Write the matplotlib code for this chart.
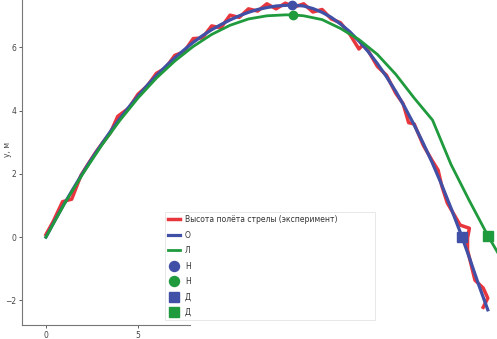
import matplotlib.pyplot as plt
import numpy as np

plt.rcParams['font.family'] = ['DejaVu Sans']

# эксперимент
x_exp = [0.0, 0.4, 0.9, 1.4, 1.9, 2.3, 2.7, 3.1, 3.5, 3.9, 4.5, 5.0, 5.5, 6.0,
         6.5, 7.0, 7.5, 8.0, 8.5, 9.0, 9.5, 10.0, 10.5, 11.0, 11.5, 12.0, 12.5,
         13.0, 13.5, 14.0, 14.5, 15.0, 15.5, 16.0, 16.5, 17.0, 17.25, 17.5,
         18.0, 18.5, 19.0, 19.4, 19.7, 20.0, 20.5, 21.0, 21.3, 21.5, 21.8,
         22.5, 23.0, 22.9, 22.9, 23.3, 23.75, 24.0, 23.75]
y_exp = [0.08, 0.5, 1.12, 1.2, 1.95, 2.32, 2.68, 3.0, 3.3, 3.82, 4.08, 4.52,
         4.78, 5.18, 5.35, 5.75, 5.86, 6.28, 6.3, 6.68, 6.62, 7.02, 6.95, 7.22,
         7.15, 7.38, 7.22, 7.4, 7.28, 7.38, 7.12, 7.2, 6.9, 6.78, 6.42, 5.95,
         6.1, 5.9, 5.4, 5.12, 4.55, 4.22, 3.62, 3.58, 2.9, 2.4, 2.12, 1.62, 1.08,
         0.38, 0.28, -0.03, -0.41, -1.36, -1.61, -1.93, -2.22]

# модель с сопротивлением
x_fit = [0, 0.5, 1, 1.5, 2, 2.5, 3, 3.5, 4, 4.5, 5, 5.5, 6, 6.5, 7, 7.5, 8,
         8.5, 9, 9.5, 10, 10.5, 11, 11.5, 12, 12.5, 13, 13.37, 14, 14.5, 15,
         15.5, 16, 16.5, 17, 17.5, 18, 18.5, 19, 19.5, 20, 20.5, 21, 21.5, 22,
         22.5, 23, 23.5, 24.0]
y_fit = [0, 0.54, 1.06, 1.55, 2.03, 2.49, 2.92, 3.34, 3.74, 4.11, 4.46, 4.8,
         5.11, 5.4, 5.67, 5.92, 6.16, 6.37, 6.56, 6.72, 6.87, 7.0, 7.11, 7.2,
         7.26, 7.31, 7.33, 7.34, 7.31, 7.23, 7.11, 6.95, 6.74, 6.5, 6.2, 5.87,
         5.49, 5.07, 4.61, 4.1, 3.55, 2.96, 2.33, 1.65, 0.92, 0.16, -0.65,
         -1.5, -2.3]

# линейная модель
x_lin = [0, 1, 2, 3, 4, 5, 6, 7, 8, 9, 10, 11, 12, 13, 13.4, 14, 15, 16, 17,
         18, 19, 20, 21, 22, 23, 24, 24.6]
y_lin = [0, 1.05, 2.0, 2.88, 3.68, 4.4, 5.03, 5.57, 6.03, 6.41, 6.7, 6.9, 7.0,
         7.03, 7.03, 7.0, 6.88, 6.6, 6.25, 5.78, 5.15, 4.4, 3.7, 2.3, 1.15,
         0.05, -0.55]

top_fit = (13.37, 7.34)
top_lin = (13.42, 7.03)
land_fit = (22.6, 0.0)
land_lin = (24.0, 0.05)

labels = ['Высота полёта стрелы (эксперимент)', 'О', 'Л', 'Н', 'Н', 'Д', 'Д']

c_red = '#e8363d'
c_blue = '#4050a6'
c_green = '#1f9a3c'

fig = plt.figure(figsize=(4.97, 3.39), dpi=100)
ax = fig.add_axes([22 / 497, 14 / 339, 475 / 497, 325 / 339])

ax.plot(x_exp, y_exp, color=c_red, lw=2.5, label=labels[0])
ax.plot(x_fit, y_fit, color=c_blue, lw=2.3, label=labels[1])
ax.plot(x_lin, y_lin, color=c_green, lw=2.0, label=labels[2])
ax.plot(*top_fit, 'o', color=c_blue, ms=6, label=labels[3])
ax.plot(*top_lin, 'o', color=c_green, ms=6, label=labels[4])
ax.plot(*land_fit, 's', color=c_blue, ms=6.5, label=labels[5])
ax.plot(*land_lin, 's', color=c_green, ms=6.5, label=labels[6])

ax.set_xlim(-1.3, 24.5)
ax.set_ylim(-2.78, 7.5)
ax.set_xticks([0, 5])
ax.set_yticks([-2, 0, 2, 4, 6])
ax.tick_params(labelsize=5.5, colors='#444444', length=2.5, width=0.6, pad=1.5)
ax.set_ylabel('y, м', fontsize=5.5, color='#444444')
ax.yaxis.set_label_coords(-0.02, 0.54)

for s in ['top', 'right']:
    ax.spines[s].set_visible(False)
for s in ['left', 'bottom']:
    ax.spines[s].set_color('#777777')
    ax.spines[s].set_linewidth(0.8)
ax.spines['bottom'].set_bounds(-1.3, 7.83)

leg = ax.legend(loc='lower left', bbox_to_anchor=(0.301, 0.015, 0.442, 0.3),
                mode='expand', fontsize=5.5, labelspacing=0.85,
                handlelength=1.6, handletextpad=0.6, borderpad=0.4,
                markerscale=1.2, frameon=True, fancybox=False, borderaxespad=0)
leg.get_frame().set_edgecolor('#dddddd')
leg.get_frame().set_linewidth(0.6)
for t in leg.get_texts():
    t.set_color('#333333')

fig.savefig('out.png', dpi=100)
